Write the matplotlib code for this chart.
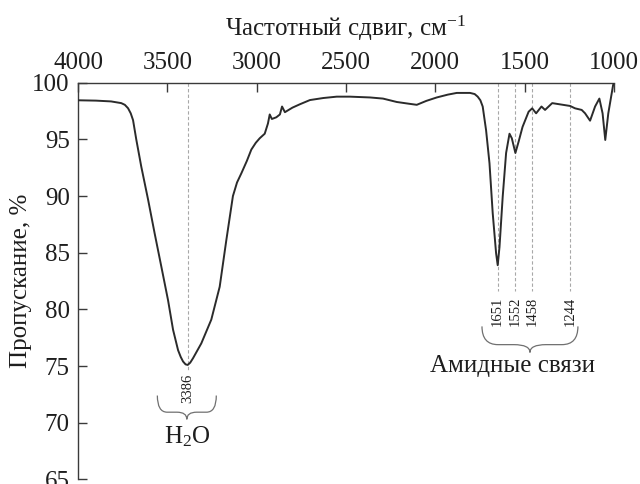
import matplotlib
matplotlib.use("Agg")
import matplotlib.pyplot as plt
from matplotlib.path import Path
from matplotlib.patches import PathPatch

plt.rcParams['font.family'] = ['Liberation Serif', 'DejaVu Serif']
plt.rcParams['mathtext.fontset'] = 'custom'
plt.rcParams['mathtext.rm'] = 'Liberation Serif'
plt.rcParams['mathtext.it'] = 'Liberation Serif:italic'

# IR spectrum (wavenumber, cm-1 -> transmittance, %)
wavenumber = [4000, 3900, 3815, 3758, 3738, 3720, 3705, 3692, 3674, 3646,
              3608, 3571, 3534, 3496, 3468, 3440, 3425, 3412, 3398, 3386,
              3372, 3356, 3310, 3254, 3207, 3170, 3133, 3110, 3086, 3055,
              3030, 3005, 2983, 2955, 2937, 2927, 2915, 2890, 2870, 2858,
              2842, 2800, 2758, 2702, 2627, 2552, 2478, 2366, 2293, 2216,
              2150, 2104, 2050, 1992, 1930, 1880, 1806, 1780, 1763, 1748,
              1735, 1716, 1697, 1679, 1660, 1651, 1641, 1623, 1604, 1585,
              1572, 1552, 1534, 1512, 1478, 1458, 1436, 1406, 1386, 1346,
              1306, 1246, 1218, 1181, 1162, 1134, 1106, 1082, 1064, 1049,
              1032, 1013, 1005, 1000]
transmittance = [98.45, 98.42, 98.35, 98.2, 98.05, 97.75, 97.3, 96.7, 95.0, 92.6,
                 89.7, 86.7, 83.8, 80.8, 78.2, 76.4, 75.8, 75.4, 75.15, 75.1,
                 75.3, 75.7, 77.0, 79.1, 82.0, 86.1, 90.0, 91.2, 92.0, 93.1,
                 94.1, 94.7, 95.1, 95.5, 96.4, 97.2, 96.8, 96.95, 97.2, 97.9,
                 97.4, 97.8, 98.1, 98.47, 98.65, 98.77, 98.77, 98.7, 98.6, 98.3,
                 98.15, 98.05, 98.4, 98.7, 98.95, 99.1, 99.1, 99.0, 98.77, 98.45,
                 97.9, 95.8, 92.9, 88.5, 84.95, 83.9, 85.5, 89.95, 93.8, 95.5,
                 95.1, 93.8, 94.8, 96.1, 97.44, 97.74, 97.3, 97.9, 97.6, 98.2,
                 98.1, 97.95, 97.74, 97.6, 97.3, 96.65, 97.9, 98.6, 97.3, 94.95,
                 97.3, 99.06, 99.8, 100.0]

water_peak = [3386]
amide_peaks = [1651, 1552, 1458, 1244]
x_ticks = [4000, 3500, 3000, 2500, 2000, 1500, 1000]
y_ticks = [65, 70, 75, 80, 85, 90, 95, 100]

ink = '#1e1e1e'
fig = plt.figure(figsize=(6.4, 4.84), dpi=100)
ax = fig.add_axes([0.1219, 0.0095, 0.8375, 0.8196])

ax.plot(wavenumber, transmittance, color='#2b2b2b', lw=1.4, zorder=3,
        solid_joinstyle='round')
ax.set_xlim(4000, 1000)
ax.set_ylim(65, 100)

# dashed marker lines and labels
for p in water_peak:
    ax.plot([p, p], [100, 74.6], color='#a8a8a8', lw=0.8, ls=(0, (3, 2)), zorder=2)
    ax.text(p, 73.05, str(p), rotation=90, ha='center', va='center',
            fontsize=10.5, color=ink)
for p in amide_peaks:
    ax.plot([p, p], [100, 81.6], color='#a8a8a8', lw=0.8, ls=(0, (3, 2)), zorder=2)
    ax.text(p, 79.85, str(p), rotation=90, ha='center', va='center',
            fontsize=10.5, color=ink)


def brace(x0, x1, ytop, ytip):
    xm = (x0 + x1) / 2
    yb = ytop - 0.7 * (ytop - ytip)
    q = (xm - x0) / 3
    verts = [(x0, ytop), (x0, yb), (x0 + q, yb), (xm - q, yb),
             (xm, yb), (xm, ytip), (xm, yb), (xm + q, yb),
             (x1 - q, yb), (x1, yb), (x1, ytop)]
    codes = [Path.MOVETO, Path.CURVE3, Path.CURVE3, Path.LINETO,
             Path.CURVE3, Path.CURVE3, Path.CURVE3, Path.CURVE3,
             Path.LINETO, Path.CURVE3, Path.CURVE3]
    ax.add_patch(PathPatch(Path(verts, codes), fill=False, ec='#707070',
                           lw=0.9, clip_on=False))


brace(water_peak[0] + 170, water_peak[0] - 160, 72.4, 70.3)
brace(max(amide_peaks) + 88, min(amide_peaks) - 42, 78.5, 76.2)

ax.text(water_peak[0], 68.75, 'H$_2$O', ha='center', va='center',
        fontsize=18, color=ink)
ax.text(1570, 75.0, 'Амидные связи', ha='center', va='center',
        fontsize=18, color=ink)

# axes styling: top and left only, ticks pointing inward
ax.spines['right'].set_visible(False)
ax.spines['bottom'].set_visible(False)
for s in ('top', 'left'):
    ax.spines[s].set_color('#3a3a3a')
    ax.spines[s].set_linewidth(1.0)
ax.xaxis.tick_top()
ax.xaxis.set_label_position('top')
ax.set_xticks(x_ticks)
ax.set_yticks(y_ticks)
ax.tick_params(axis='both', direction='in', length=6.5, width=1.0,
               color='#3a3a3a', labelsize=18, labelcolor=ink, pad=6)
ax.set_xlabel('Частотный сдвиг, см$^{-1}$', fontsize=18, color=ink, labelpad=12)
ax.set_ylabel('Пропускание, %', fontsize=18, color=ink, labelpad=0)

fig.savefig('out.png', dpi=100)
